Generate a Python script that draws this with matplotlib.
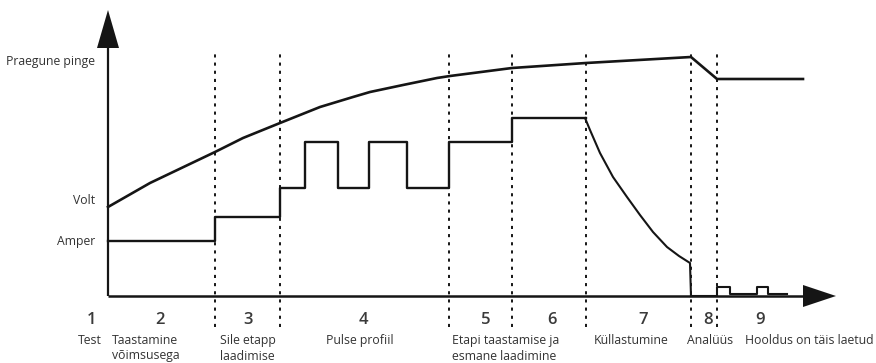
import matplotlib as mpl
mpl.use('Agg')
import matplotlib.pyplot as plt
from matplotlib.patches import Polygon

plt.rcParams['font.family'] = ['Open Sans', 'DejaVu Sans']

# stage borders on the time axis
stage_edges = [107, 172, 341, 404, 478, 583, 609]

# voltage curve (read points)
volt_t = [0, 42, 107, 135, 172, 212, 245, 262, 295, 329, 342, 404, 478, 583, 609, 695]
volt_v = [89, 113, 144, 158, 173, 189, 199, 204, 211, 218, 220, 228, 233, 239, 217, 217]

# current: stepped charge stages 1..6
amp_step_t = [0, 107, 172, 197, 230, 261, 299, 341, 404, 478]
amp_step_v = [55, 79, 108, 154, 108, 154, 108, 154, 178, 178]

# current: absorption decay in stage 7
amp_decay_t = [477, 482, 492, 505, 519, 532, 545, 559, 571, 582, 583]
amp_decay_v = [178, 166, 143, 119, 99, 81, 64, 49, 40, 33, 0]

# current: analysis + maintenance pulses
amp_float_t = [583, 609, 622, 649, 660, 679]
amp_float_v = [0, 9, 2, 9, 2, 2]

# stage numbers and captions
stage_nums = ['1', '2', '3', '4', '5', '6', '7', '8', '9']
stage_num_x = [-16, 52, 140, 255, 378, 444, 535, 600, 652]
captions = [
    ('Test', -18, 'center'),
    ('Taastamine\nvõimsusega', 4, 'left'),
    ('Sile etapp\nlaadimise', 112, 'left'),
    ('Pulse profiil', 252, 'center'),
    ('Etapi taastamise ja\nesmane laadimine', 344, 'left'),
    ('Küllastumine', 523, 'center'),
    ('Analüüs', 602, 'center'),
    ('Hooldus on täis laetud', 637, 'left'),
]

y_labels = [('Praegune pinge', 234), ('Volt', 95), ('Amper', 55)]

ink = '#151515'
txt = '#333333'

fig = plt.figure(figsize=(8.76, 3.63), dpi=100)
ax = fig.add_axes([0, 0, 1, 1])
ax.set_xlim(-108, 768)
ax.set_ylim(-67, 296)
ax.axis('off')

# axes with arrow heads
ax.plot([0, 0], [0, 250], color=ink, lw=1.6, solid_capstyle='butt')
ax.plot([0, 697], [0, 0], color=ink, lw=1.8, solid_capstyle='butt')
ax.add_patch(Polygon([[-11, 248], [11, 248], [0, 286]], closed=True,
                     color=ink, lw=0))
ax.add_patch(Polygon([[695, 11], [695, -11], [728, 0]], closed=True,
                     color=ink, lw=0))

# stage separators
for t in stage_edges:
    ax.plot([t, t], [-31, 246], color=ink, lw=1.4,
            linestyle=(0, (1.6, 2.6)))

# voltage
ax.plot(volt_t, volt_v, color=ink, lw=1.9, solid_joinstyle='round')

# current
ax.plot(amp_step_t, amp_step_v, color=ink, lw=1.7, drawstyle='steps-post')
ax.plot(amp_decay_t, amp_decay_v, color=ink, lw=1.5, solid_joinstyle='round')
ax.plot(amp_float_t, amp_float_v, color=ink, lw=1.5, drawstyle='steps-post')

# left labels
for s, v in y_labels:
    ax.text(-13, v, s, ha='right', va='center', fontsize=8.8, color=txt)

# stage numbers
for s, x in zip(stage_nums, stage_num_x):
    ax.text(x, -24, s, ha='center', va='center', fontsize=12,
            fontweight='semibold', color='#3a3a3a')

# captions
for s, x, ha in captions:
    ax.text(x, -38, s, ha=ha, va='top', fontsize=8.8, color=txt,
            linespacing=1.25)

fig.savefig('out.png', dpi=100)
